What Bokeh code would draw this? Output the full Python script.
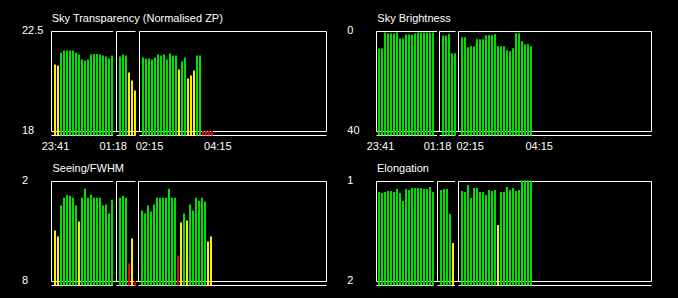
from bokeh.plotting import figure
from bokeh.layouts import column, row
from bokeh.models import ColumnDataSource, Range1d
from bokeh.core.properties import value
from bokeh.embed import file_html
from bokeh.resources import INLINE

# ---------------- data ----------------
time_ticks = ["23:41", "01:18", "02:15", "04:15"]

transparency_seg1 = [20.99, 20.95, 21.52, 21.62, 21.62, 21.62, 21.62, 21.52, 21.44, 21.22,
                     21.17, 21.22, 21.44, 21.47, 21.47, 21.44, 21.40, 21.35, 21.26, 21.40]
transparency_seg2 = [21.35, 21.44, 21.40, 20.63, 20.27, 19.82]
transparency_seg3 = [21.31, 21.26, 21.26, 21.22, 21.31, 21.44, 21.40, 21.44, 21.22, 21.49,
                     21.40, 21.40, 20.77, 21.13, 21.31, 20.36, 20.50, 20.72, 21.40, 21.40,
                     17.6, 17.6, 17.6, 17.6]

brightness_seg1 = [7.0, 7.0, 0.6, 1.0, 1.0, 1.0, 0.6, 3.0, 3.0, 1.4,
                   1.4, 1.4, 1.0, 0.6, 0.6, 0.6, 0.6, 0.6, 0.6]
brightness_seg2 = [1.8, 1.8, 1.2, 8.9, 8.9]
brightness_seg3 = [2.5, 2.5, 6.5, 6.1, 6.1, 3.3, 3.3, 3.3, 1.7, 1.7,
                   1.7, 1.3, 6.1, 6.1, 6.1, 7.7, 8.1, 6.9, 0.9, 0.9,
                   4.1, 5.3, 5.3, 6.1]

seeing_seg1 = [4.97, 5.33, 3.47, 3.01, 2.83, 2.89, 3.01, 3.47, 4.43, 3.01,
               2.47, 3.01, 2.83, 3.01, 3.01, 3.01, 3.47, 3.41, 3.95, 3.13]
seeing_seg2 = [3.01, 2.89, 3.01, 6.95, 5.45, 8.4]
seeing_seg3 = [3.77, 3.95, 3.47, 3.83, 3.41, 3.01, 3.01, 3.01, 3.01, 2.47,
               3.01, 3.01, 6.47, 4.49, 3.95, 4.37, 3.41, 3.77, 3.01, 3.19,
               3.01, 3.23, 5.63, 5.33]

elongation_seg1 = [1.11, 1.12, 1.11, 1.10, 1.10, 1.11, 1.08, 1.12, 1.20, 1.08,
                   1.09, 1.07, 1.07, 1.07, 1.07, 1.08, 1.08, 1.06, 1.11]
elongation_seg2 = [1.09, 1.08, 1.08, 1.33, 1.62]
elongation_seg3 = [1.10, 1.11, 1.04, 1.17, 1.07, 1.07, 1.11, 1.11, 1.14, 1.09,
                   1.10, 1.09, 1.44, 1.11, 1.11, 1.06, 1.09, 1.07, 1.10, 1.09,
                   0.99, 0.99, 0.99, 0.99]

# quality thresholds (yellow, red); "higher" = larger values are better
transparency_limits = (21.05, 19.5)
brightness_limits = (15.0, 25.0)
seeing_limits = (4.2, 6.0)
elongation_limits = (1.38, 1.8)

panels = [
    dict(title="Sky Transparency (Normalised ZP)", segs=[transparency_seg1, transparency_seg2, transparency_seg3],
         bottom=18, top=22.5, labels=("18", "22.5"), limits=transparency_limits, higher=True, times=True),
    dict(title="Sky Brightness", segs=[brightness_seg1, brightness_seg2, brightness_seg3],
         bottom=40, top=0, labels=("40", "0"), limits=brightness_limits, higher=False, times=True),
    dict(title="Seeing/FWHM", segs=[seeing_seg1, seeing_seg2, seeing_seg3],
         bottom=8, top=2, labels=("8", "2"), limits=seeing_limits, higher=False, times=False),
    dict(title="Elongation", segs=[elongation_seg1, elongation_seg2, elongation_seg3],
         bottom=2, top=1, labels=("2", "1"), limits=elongation_limits, higher=False, times=False),
]

# ---------------- layout (panel-relative pixels) ----------------
GREEN, YELLOW, RED = "#00e000", "#ffee00", "#ee0000"
FONT = "Liberation Sans"
T0, B0 = 30.5, 130.5        # box top / bottom line
BASE0 = 134.5               # baseline under the bars
BAR_BOTTOM0 = 135.0
TOP_CLIP0 = 30.0
STEP = 3.0                  # pixels per sample
BAR_W = 2.0
SHIFT = 0.5                 # pixel alignment for crisp lines
TEXT_UP = 4.0               # baseline correction for text

layouts = [
    dict(w=339, h=156, dy=0, left=50.5, right=325.5,
         segs=[(50.5, 112.0, 54), (115.5, 134.5, 119), (138.5, 325.5, 142)],
         ticks=[55, 112.7, 149, 217.3], title_x=51.2, ylab_x=21.4, title_y=21.6),
    dict(w=339, h=156, dy=0, left=36.5, right=311.5,
         segs=[(36.5, 97.0, 39), (99.5, 115.5, 103), (118.5, 311.5, 122)],
         ticks=[41, 98, 130.7, 199.7], title_x=37.8, ylab_x=7.8, title_y=21.6),
    dict(w=339, h=142, dy=-6, left=50.5, right=325.5,
         segs=[(50.5, 112.0, 54), (115.5, 134.5, 119), (137.5, 325.5, 141)],
         ticks=[], title_x=52.0, ylab_x=21.4, title_y=21.0),
    dict(w=339, h=142, dy=-6, left=36.5, right=311.5,
         segs=[(36.5, 93.5, 39), (97.5, 115.0, 101), (118.5, 311.5, 122)],
         ticks=[], title_x=37.5, ylab_x=7.8, title_y=21.0),
]


def quality_color(v, limits, higher):
    ylim, rlim = limits
    if higher:
        return RED if v < rlim else (YELLOW if v < ylim else GREEN)
    return RED if v > rlim else (YELLOW if v > ylim else GREEN)


def make_panel(spec, lay):
    L = lay["left"]
    w, h, dy, sh = lay["w"], lay["h"], lay["dy"], SHIFT
    T, B = T0 + dy, B0 + dy

    def xs(px):
        return (px - L) / STEP

    vb, vt = spec["bottom"], spec["top"]
    upp = (vt - vb) / (B0 - T0)

    def yv(py):
        return vb + (B - py) * upp

    p = figure(width=w, height=h, output_backend="svg", toolbar_location=None,
               x_range=Range1d(xs(0), xs(w)), y_range=Range1d(yv(h), yv(0)),
               x_axis_location=None, y_axis_location=None, min_border=0,
               background_fill_color="black", border_fill_color="black",
               outline_line_color=None)
    p.grid.visible = False

    segs = lay["segs"]
    x0 = [xs(s[0] + sh) for s in segs]
    x1 = [xs(s[1] + sh) for s in segs]
    line = dict(line_color="white", line_width=1)
    # segment top lines and baselines
    p.segment(x0=x0, y0=yv(T + sh), x1=x1, y1=yv(T + sh), **line)
    p.segment(x0=x0, y0=yv(BASE0 + dy + sh), x1=x1, y1=yv(BASE0 + dy + sh), **line)
    # verticals
    vx = x0 + [xs(lay["right"] + sh)]
    p.segment(x0=vx, y0=yv(T + sh), x1=vx, y1=yv(B + sh), **line)
    # bottom of box
    p.segment(x0=[xs(L + sh)], y0=yv(B + sh), x1=[xs(lay["right"] + sh)], y1=yv(B + sh), **line)

    lo, hi = sorted([vb, yv(TOP_CLIP0 + dy)])
    bx, btop, bcol = [], [], []
    for vals, sl in zip(spec["segs"], segs):
        start = xs(sl[2] + sh)
        for k, v in enumerate(vals):
            bx.append(start + k)
            btop.append(min(max(v, lo), hi))
            bcol.append(quality_color(v, spec["limits"], spec["higher"]))
    src = ColumnDataSource(dict(x=bx, top=btop, color=bcol))
    p.vbar(x="x", width=BAR_W / STEP, bottom=yv(BAR_BOTTOM0 + dy), top="top", fill_color="color",
           line_color=None, source=src)

    txt = dict(text_font=value(FONT), text_font_size="11px", text_color="white",
               text_baseline="alphabetic")
    # title
    p.text(x=[xs(lay["title_x"])], y=[yv(lay["title_y"] + dy - TEXT_UP)], text=[spec["title"]],
           text_align="left", **txt)
    # y labels (bottom, top)
    p.text(x=[xs(lay["ylab_x"])] * 2, y=[yv(B + 3.3 - TEXT_UP), yv(T + 3.3 - TEXT_UP)],
           text=list(spec["labels"]), text_align="left", **txt)
    # time labels
    if spec["times"]:
        p.text(x=[xs(c) for c in lay["ticks"]], y=[yv(149.6 + dy - TEXT_UP)] * len(lay["ticks"]),
               text=time_ticks, text_align="center", **txt)
    return p


figs = [make_panel(s, l) for s, l in zip(panels, layouts)]
layout = column(row(figs[0], figs[1]), row(figs[2], figs[3]))

html = file_html(layout, INLINE)
html = html.replace("<head>", "<head><style>html, body { background: #000; margin: 0; }</style>", 1)
open("out.html", "w").write(html)
